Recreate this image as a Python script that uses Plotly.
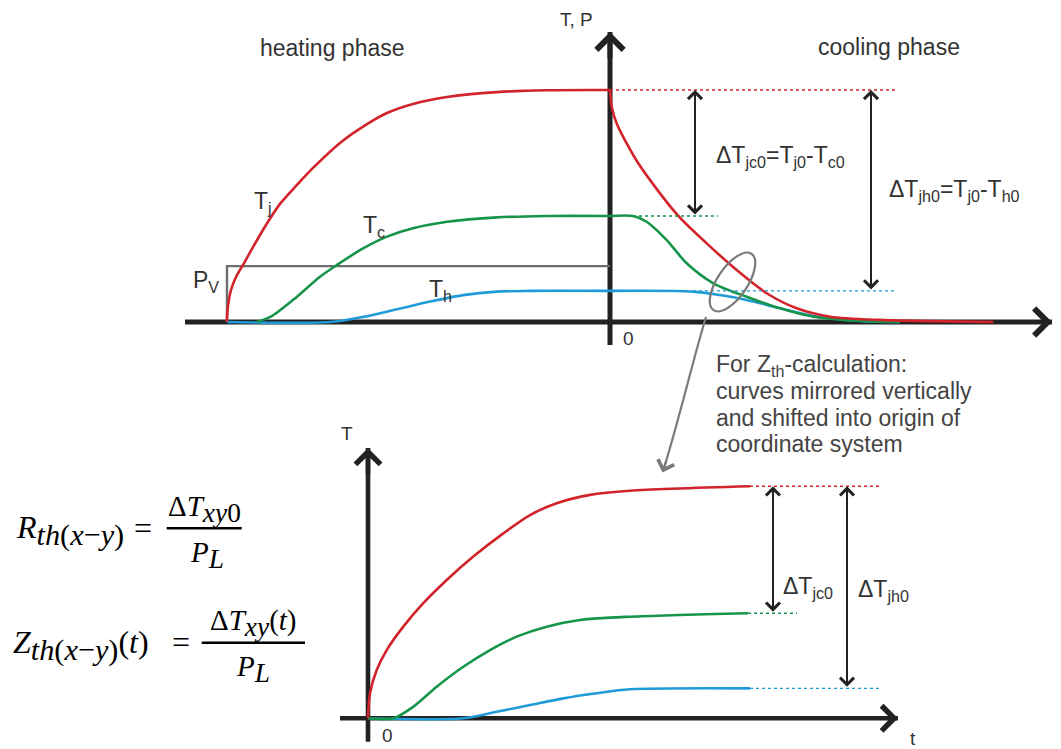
import math
import plotly.graph_objects as go

W, H = 1061, 749

# ---- values ----
# upper diagram: t in a.u. (0 = power switched off), temperature in % of Tj0
t_heat_j = [-383.3, -382, -379, -374, -367, -357, -344, -330, -313, -297, -270, -243, -223, -197, -163, -113, -63, 0]
Tj_heat = [0, 6.9, 13.8, 19.4, 24.6, 32.3, 41.8, 50.9, 59.1, 66.4, 77.2, 85.3, 90.1, 94.0, 97.0, 99.1, 99.9, 100]
t_heat_c = [-353, -337, -313, -290, -273, -247, -223, -197, -163, -113, -63, 0]
Tc_heat = [0, 2.9, 10.9, 19.5, 24.6, 31.7, 36.8, 40.4, 43.2, 45.1, 45.7, 45.7]
t_heat_h = [-383, -280, -247, -213, -180, -147, -113, -80, 0]
Th_heat = [0, 0, 2.2, 5.5, 8.8, 11.6, 13.1, 13.4, 13.4]

t_cool_j = [0, 1.7, 6.7, 28.3, 68.3, 96.7, 126.7, 156.7, 186.7, 220, 270, 383.3]
Tj_cool = [100, 92.8, 85.6, 68.4, 45.7, 33.9, 22.4, 12.4, 5.9, 2.3, 0.9, 0]
t_cool_c = [0, 23, 36.7, 56.7, 76.7, 103.3, 136.7, 170, 203.3, 253.3, 290]
Tc_cool = [45.7, 45.7, 43.2, 35.3, 25.3, 16.7, 10.9, 5.9, 2.3, 0.4, 0]
t_cool_h = [0, 83.3, 110, 136.7, 170, 203.3, 253.3, 290]
Th_cool = [13.4, 13.1, 11.6, 9.5, 5.9, 2.6, 0.3, 0]

t_pv = [-383, -383, 0]
P_v = [0, 24.1, 24.1]

# dotted level lines and arrows of the upper diagram
t_dot_j, t_dot_c, t_dot_h = [0, 285], [23, 108], [83, 285]
t_arrow_jc, t_arrow_jh = 85, 261

# lower diagram (Zth curves, mirrored and shifted into origin)
t_z_j = [0, 2, 8.7, 18.7, 35.3, 55.3, 78.7, 105.3, 135.3, 162, 188.7, 222, 262, 382]
Z_j = [0, 10.8, 20.8, 29.4, 39.5, 49.6, 59.6, 69.7, 79.7, 87.6, 92.7, 96.3, 98.1, 100]
t_z_c = [0, 25.3, 45.3, 68.7, 95.3, 122, 148.7, 178.7, 212, 262, 380]
Z_c = [0, 0, 5.0, 13.6, 22.2, 29.4, 35.2, 39.5, 42.4, 43.8, 45.3]
t_z_h = [0, 95.3, 128.7, 162, 195.3, 228.7, 262, 382]
Z_h = [0, 0, 2.8, 5.7, 8.6, 10.8, 12.5, 12.9]

tz_dot_j, tz_dot_c, tz_dot_h = [382, 514], [380, 429], [382, 514]
tz_arrow_jc, tz_arrow_jh = 405, 479

# ---- styling / placement ----
RED, GREEN, BLUE = "#d2232a", "#16954a", "#1f9bd7"
GRAY, AXIS, TEXT = "#6e6e6e", "#222222", "#333333"
SANS = "Liberation Sans, Arial, sans-serif"
SERIF = "Liberation Serif, Times New Roman, serif"

TOP_X0, TOP_Y0 = 610, 322      # pixel position of upper origin
BOT_X0, BOT_Y0 = 368, 718.3    # pixel position of lower origin
KY = 2.32                      # pixels per % of temperature


def paper(x, y):
    return x / W, 1 - y / H


fig = go.Figure()


def curve(t, v, color, axes="top", dash=None, width=2.6, smooth=True):
    xa, ya = ("x", "y") if axes == "top" else ("x2", "y2")
    spline = smooth and not dash
    fig.add_trace(go.Scatter(
        x=t, y=v, xaxis=xa, yaxis=ya, mode="lines", hoverinfo="skip",
        line=dict(color=color, width=width, dash=dash,
                  shape="spline" if spline else "linear", smoothing=0.8 if spline else None),
        showlegend=False))


# upper diagram
curve(t_pv, P_v, GRAY, width=2.4, smooth=False)
curve(t_heat_h, Th_heat, BLUE)
curve(t_cool_h, Th_cool, BLUE)
curve(t_heat_c, Tc_heat, GREEN)
curve(t_cool_c, Tc_cool, GREEN)
curve(t_heat_j, Tj_heat, RED)
curve(t_cool_j, Tj_cool, RED)
curve(t_dot_j, [Tj_heat[-1]] * 2, RED, dash="dot", width=1.4)
curve(t_dot_c, [Tc_heat[-1]] * 2, GREEN, dash="dot", width=1.4)
curve(t_dot_h, [Th_heat[-1]] * 2, BLUE, dash="dot", width=1.4)

# lower diagram
curve(t_z_h, Z_h, BLUE, axes="bot")
curve(t_z_c, Z_c, GREEN, axes="bot")
curve(t_z_j, Z_j, RED, axes="bot")
curve(tz_dot_j, [Z_j[-1]] * 2, RED, axes="bot", dash="dot", width=1.4)
curve(tz_dot_c, [Z_c[-1]] * 2, GREEN, axes="bot", dash="dot", width=1.4)
curve(tz_dot_h, [Z_h[-1]] * 2, BLUE, axes="bot", dash="dot", width=1.4)

shapes = []
annotations = []


def axis_arrow(xa, ya, x0, y0, x1, y1, width=5):
    # line body below the curves, arrow head on top
    shapes.append(dict(type="line", xref=xa, yref=ya, x0=x0, y0=y0, x1=x1, y1=y1,
                       layer="below", line=dict(color=AXIS, width=width)))
    dx, dy = x1 - x0, y1 - y0
    n = math.hypot(dx, dy)
    annotations.append(dict(x=x1, y=y1, ax=x1 - dx / n * 12, ay=y1 - dy / n * 12,
                            xref=xa, yref=ya, axref=xa, ayref=ya, text="",
                            showarrow=True, arrowhead=4, arrowsize=1.05,
                            arrowwidth=width, arrowcolor=AXIS))


axis_arrow("x", "y", -425, 0, 442, 0)
axis_arrow("x", "y", 0, -9.9, 0, 125)
axis_arrow("x2", "y2", -28, 0, 530, 0, width=4.6)
axis_arrow("x2", "y2", 0, -10.1, 0, 116.5, width=4.6)


def double_arrow(xa, ya, x, y_top, y_bot):
    annotations.append(dict(x=x, y=y_top, ax=x, ay=y_bot, xref=xa, yref=ya,
                            axref=xa, ayref=ya, text="", showarrow=True,
                            arrowside="end+start", arrowhead=4, startarrowhead=4,
                            arrowsize=1.35, startarrowsize=1.35, arrowwidth=2,
                            arrowcolor=AXIS))


double_arrow("x", "y", t_arrow_jc, Tj_heat[-1], Tc_heat[-1])
double_arrow("x", "y", t_arrow_jh, Tj_heat[-1], Th_heat[-1])
double_arrow("x2", "y2", tz_arrow_jc, Z_j[-1], Z_c[-1])
double_arrow("x2", "y2", tz_arrow_jh, Z_j[-1], Z_h[-1])


# tilted ellipse around the cooling curves
def ellipse_path(cx, cy, a, b, tilt):
    th = math.radians(tilt)
    e1 = (math.sin(th), -math.cos(th))
    e2 = (math.cos(th), math.sin(th))
    k = 0.5523

    def p(u, v):
        px, py = paper(cx + u * e1[0] + v * e2[0], cy + u * e1[1] + v * e2[1])
        return f"{px:.5f},{py:.5f}"

    return (f"M{p(a, 0)} C{p(a, k * b)} {p(k * a, b)} {p(0, b)} "
            f"C{p(-k * a, b)} {p(-a, k * b)} {p(-a, 0)} "
            f"C{p(-a, -k * b)} {p(-k * a, -b)} {p(0, -b)} "
            f"C{p(k * a, -b)} {p(a, -k * b)} {p(a, 0)} Z")


shapes.append(dict(type="path", xref="paper", yref="paper",
                   path=ellipse_path(732.5, 282, 34, 15, 34),
                   line=dict(color="#7a7a7a", width=2.2)))

# connector from ellipse down to the lower diagram
c = [paper(706, 317), paper(694, 356), paper(679, 420), paper(664, 468)]
shapes.append(dict(type="path", xref="paper", yref="paper",
                   path="M{:.5f},{:.5f} C{:.5f},{:.5f} {:.5f},{:.5f} {:.5f},{:.5f}".format(
                       *c[0], *c[1], *c[2], *c[3]),
                   line=dict(color="#7a7a7a", width=2.2)))
hx, hy = paper(662.5, 472.5)
annotations.append(dict(x=hx, y=hy, xref="paper", yref="paper", ax=4.5, ay=-13.5,
                        text="", showarrow=True, arrowhead=4, arrowsize=1.5,
                        arrowwidth=2.2, arrowcolor="#7a7a7a"))

# fraction bars of the formulas
for x0, x1, y in [(166.7, 241.7, 528.3), (201.7, 305, 642.7)]:
    px0, py = paper(x0, y)
    px1, _ = paper(x1, y)
    shapes.append(dict(type="line", xref="paper", yref="paper", x0=px0, x1=px1,
                       y0=py, y1=py, line=dict(color="black", width=2.6)))


def label(text, x, y, size=23, xanchor="left", color=TEXT, family=SANS):
    px, py = paper(x, y)
    annotations.append(dict(text=text, x=px, y=py, xref="paper", yref="paper",
                            xanchor=xanchor, yanchor="middle", showarrow=False,
                            font=dict(size=size, color=color, family=family)))


label("heating phase", 332, 48, xanchor="center")
label("cooling phase", 889, 47, xanchor="center")
label("T, P", 576, 20, size=19, xanchor="center")
label("0", 628, 338, size=19, xanchor="center")
label("T<sub>j</sub>", 252, 202)
label("T<sub>c</sub>", 361, 226)
label("T<sub>h</sub>", 427, 290)
label("P<sub>V</sub>", 191, 281)
label("ΔT<sub>jc0</sub>=T<sub>j0</sub>-T<sub>c0</sub>", 714, 157)
label("ΔT<sub>jh0</sub>=T<sub>j0</sub>-T<sub>h0</sub>", 887, 191)

label("For Z<sub>th</sub>-calculation:", 714, 365, color="#444444")
label("curves mirrored vertically", 714, 391, color="#444444")
label("and shifted into origin of", 714, 417.5, color="#444444")
label("coordinate system", 714, 444, color="#444444")

label("T", 347, 434, size=19, xanchor="center")
label("0", 387.5, 735, size=19, xanchor="center")
label("t", 913, 738, size=19, xanchor="center")
label("ΔT<sub>jc0</sub>", 781, 587)
label("ΔT<sub>jh0</sub>", 856, 590)

# formulas
BIG = "<span style='font-size:135%'>{}</span>"
label("<i>R</i><sub>" + BIG.format("<i>th</i>(<i>x</i>−<i>y</i>)") + "</sub>",
      14, 530, size=32, color="black", family=SERIF)
label("=", 143, 528, size=32, xanchor="center", color="black", family=SERIF)
label("Δ<i>T</i><sub>" + BIG.format("<i>xy</i>0") + "</sub>",
      204, 509, size=29, xanchor="center", color="black", family=SERIF)
label("<i>P</i><sub>" + BIG.format("<i>L</i>") + "</sub>",
      207, 555, size=29, xanchor="center", color="black", family=SERIF)
label("<i>Z</i><sub>" + BIG.format("<i>th</i>(<i>x</i>−<i>y</i>)") + "</sub>(<i>t</i>)",
      11, 645, size=32, color="black", family=SERIF)
label("=", 181, 642, size=32, xanchor="center", color="black", family=SERIF)
label("Δ<i>T</i><sub>" + BIG.format("<i>xy</i>") + "</sub>(<i>t</i>)",
      253, 623, size=29, xanchor="center", color="black", family=SERIF)
label("<i>P</i><sub>" + BIG.format("<i>L</i>") + "</sub>",
      253, 669, size=29, xanchor="center", color="black", family=SERIF)

hidden = dict(visible=False, showgrid=False, zeroline=False, fixedrange=True, domain=[0, 1])
fig.update_layout(
    width=W, height=H, margin=dict(l=0, r=0, t=0, b=0),
    paper_bgcolor="white", plot_bgcolor="white",
    xaxis=dict(range=[-TOP_X0, W - TOP_X0], **hidden),
    yaxis=dict(range=[(TOP_Y0 - H) / KY, TOP_Y0 / KY], **hidden),
    xaxis2=dict(range=[-BOT_X0, W - BOT_X0], overlaying="x", anchor="y2", **hidden),
    yaxis2=dict(range=[(BOT_Y0 - H) / KY, BOT_Y0 / KY], overlaying="y", anchor="x2", **hidden),
    shapes=shapes, annotations=annotations,
)

fig.write_html("out.html", config={"displayModeBar": False},
               post_script="document.body.style.margin='0';")
